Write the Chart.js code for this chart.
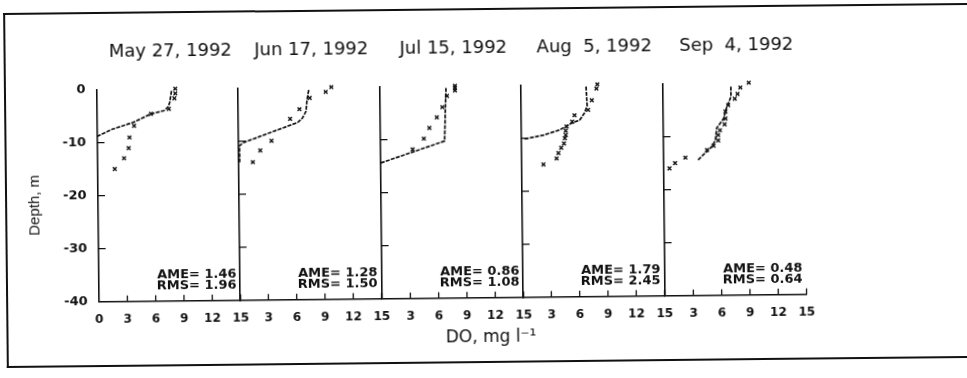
<!DOCTYPE html>
<html>
<head>
<meta charset="utf-8">
<script src="https://cdn.jsdelivr.net/npm/chart.js@4.4.1/dist/chart.umd.min.js"></script>
<style>
  html, body { margin: 0; background: #fff; overflow: hidden; }
  #page { position: relative; width: 967px; height: 378px; overflow: hidden; background: #fff; }
  /* the whole sheet sits a little askew; it is oversized so its edges stay off-page */
  #sheet { position: absolute; left: -40px; top: -40px; width: 1100px; height: 480px;
           transform-origin: 523.5px 229px; transform: rotate(-0.6deg); }
  #inner { position: absolute; left: 40px; top: 40px; width: 967px; height: 378px; }
  .rule { position: absolute; background: #111; }
  #ruleTop { left: 5px; top: 8px; width: 1020px; height: 2px; }
  #ruleBottom { left: 5px; top: 361px; width: 1020px; height: 2px; }
  #ruleLeft { left: 5px; top: 8px; width: 2px; height: 355px; }
  #inner canvas { position: absolute; top: 0; }
</style>
</head>
<body>
<div id="page">
  <div id="sheet">
    <div id="inner">
      <div class="rule" id="ruleTop"></div>
      <div class="rule" id="ruleBottom"></div>
      <div class="rule" id="ruleLeft"></div>
      <canvas id="panel0" width="308" height="378"></canvas>
      <canvas id="panel1" width="308" height="378"></canvas>
      <canvas id="panel2" width="308" height="378"></canvas>
      <canvas id="panel3" width="308" height="378"></canvas>
      <canvas id="panel4" width="308" height="378"></canvas>
    </div>
  </div>
</div>
<script>
// DO profiles, simulated (line) vs measured (x), 1992
const dates = ['May 27, 1992', 'Jun 17, 1992', 'Jul 15, 1992', 'Aug  5, 1992', 'Sep  4, 1992'];
const ame = [1.46, 1.28, 0.86, 1.79, 0.48];
const rms = [1.96, 1.50, 1.08, 2.45, 0.64];

const doTicks = [0, 3, 6, 9, 12, 15];
const depthTicks = [0, -10, -20, -30, -40];

// simulated profiles: DO (mg/l) and depth (m)
const mayModelDo = [7.9, 7.7, 7.5, 7.1, 5.7, 3.9, 1.6, 0.0];
const mayModelDepth = [-0.4, -2.6, -3.5, -4.1, -4.7, -6.2, -7.5, -8.8];
const junModelDo = [7.5, 7.3, 7.2, 6.8, 6.3, 0.5, 0.1, 0.1];
const junModelDepth = [-0.5, -2.5, -4.5, -5.8, -6.6, -10.3, -10.9, -14.0];
const julModelDo = [7.0, 6.9, 6.8, 0.0];
const julModelDepth = [-0.4, -5.0, -10.4, -14.4];
const augModelDo = [6.9, 7.0, 6.7, 6.2, 5.3, 4.1, 2.3, 0.2];
const augModelDepth = [-0.4, -4.1, -5.4, -6.7, -7.3, -8.5, -9.5, -10.2];
const sepModelDo = [7.2, 7.2, 6.7, 6.4, 5.65, 5.5, 5.1, 3.6];
const sepModelDepth = [-0.7, -2.6, -4.8, -6.7, -8.5, -10.8, -12.0, -14.5];

// measured profiles
const mayObsDo = [8.3, 8.3, 8.2, 7.6, 5.7, 3.9, 3.4, 3.3, 2.8, 1.8];
const mayObsDepth = [0, -0.9, -1.8, -3.8, -4.7, -6.9, -9.1, -11.1, -13.0, -15.0];
const junObsDo = [9.9, 9.3, 7.6, 6.5, 5.5, 3.5, 2.3, 1.5];
const junObsDepth = [0, -0.9, -2.0, -4.1, -5.9, -10.0, -11.8, -14.0];
const julObsDo = [7.95, 7.95, 7.95, 7.1, 6.6, 6.0, 5.2, 4.6, 3.4];
const julObsDepth = [0, -0.4, -0.9, -1.9, -4.0, -5.9, -7.9, -9.9, -11.9];
const augObsDo = [8.1, 8.0, 7.5, 7.1, 5.65, 5.4, 4.8, 4.7, 4.7, 4.6, 4.5, 4.2, 3.9, 3.7, 2.3];
const augObsDepth = [0, -0.8, -3.0, -4.8, -5.8, -7.0, -7.9, -8.7, -9.5, -10.1, -11.1, -11.9, -12.9, -13.9, -15.0];
const sepObsDo = [9.1, 8.2, 7.9, 7.6, 6.9, 6.6, 6.6, 6.5, 6.0, 5.8, 5.8, 5.3, 4.6, 2.3, 1.2, 0.6];
const sepObsDepth = [0, -0.9, -2.1, -3.0, -4.2, -5.4, -6.7, -7.8, -8.9, -9.8, -10.8, -11.8, -12.6, -14.0, -15.0, -16.0];

const modelDo = [mayModelDo, junModelDo, julModelDo, augModelDo, sepModelDo];
const modelDepth = [mayModelDepth, junModelDepth, julModelDepth, augModelDepth, sepModelDepth];
const obsDo = [mayObsDo, junObsDo, julObsDo, augObsDo, sepObsDo];
const obsDepth = [mayObsDepth, junObsDepth, julObsDepth, augObsDepth, sepObsDepth];

const INK = '#111';
const AXIS_X0 = 97.5;   // left axis of first panel
const PANEL_W = 141.5;
const PAD_L = 80;       // room for depth labels
const PAD_R = 86.5;

const pts = (xs, ys) => xs.map((v, i) => ({ x: v, y: ys[i] }));

// date heading, inward tick marks, error stats and the shared axis labels
const panelMarks = {
  id: 'panelMarks',
  afterDraw(chart, args, opts) {
    const { ctx, chartArea: a, scales: { x, y } } = chart;
    ctx.save();
    ctx.strokeStyle = INK;
    ctx.lineWidth = 1.3;
    ctx.beginPath();
    for (const v of depthTicks.slice(1, -1)) {
      const py = y.getPixelForValue(v);
      ctx.moveTo(a.left, py);
      ctx.lineTo(a.left + 7, py);
    }
    for (const v of doTicks.slice(1)) {
      const px = x.getPixelForValue(v);
      ctx.moveTo(px, a.bottom);
      ctx.lineTo(px, a.bottom - 6);
    }
    ctx.stroke();

    ctx.fillStyle = INK;
    ctx.textBaseline = 'middle';

    ctx.font = '18px "DejaVu Sans"';
    ctx.textAlign = 'center';
    ctx.fillText(opts.title, (a.left + a.right) / 2 + 3, a.top - 37);

    ctx.font = 'bold 13px "DejaVu Sans"';
    ctx.textAlign = 'right';
    ctx.fillText(`AME= ${opts.ame.toFixed(2)}`, a.right - 4, a.bottom - 26);
    ctx.fillText(`RMS= ${opts.rms.toFixed(2)}`, a.right - 4, a.bottom - 15.5);

    if (opts.xLabel) {
      ctx.font = '17px "DejaVu Sans"';
      ctx.textAlign = 'center';
      ctx.fillText(opts.xLabel, a.right - 33, a.bottom + 40);
    }
    if (opts.yLabel) {
      ctx.translate(a.left - 63, (a.top + a.bottom) / 2 + 9);
      ctx.rotate(-Math.PI / 2);
      ctx.font = '15px "Liberation Sans"';
      ctx.textAlign = 'center';
      ctx.fillText(opts.yLabel, 0, 0);
    }
    ctx.restore();
  }
};

dates.forEach((date, k) => {
  const el = document.getElementById('panel' + k);
  el.style.left = (AXIS_X0 + k * PANEL_W - PAD_L) + 'px';
  new Chart(el, {
    type: 'scatter',
    data: {
      datasets: [
        {
          type: 'line',
          data: pts(modelDo[k], modelDepth[k]),
          borderColor: INK,
          borderWidth: 1.7,
          borderDash: [4, 1.3],
          pointRadius: 0,
          tension: 0,
          fill: false,
          clip: false
        },
        {
          data: pts(obsDo[k], obsDepth[k]),
          pointStyle: 'crossRot',
          pointRadius: 2.6,
          borderColor: INK,
          borderWidth: 1.4,
          backgroundColor: INK,
          clip: false
        }
      ]
    },
    options: {
      responsive: false,
      animation: false,
      events: [],
      layout: { padding: { left: 0, right: PAD_R, top: 85.5, bottom: 50.3 } },
      plugins: {
        legend: { display: false },
        tooltip: { enabled: false },
        title: { display: false },
        panelMarks: {
          title: date,
          ame: ame[k],
          rms: rms[k],
          xLabel: k === 2 ? 'DO, mg l\u207B\u00B9' : '',
          yLabel: k === 0 ? 'Depth, m' : ''
        }
      },
      scales: {
        x: {
          type: 'linear',
          min: 0,
          max: 15,
          afterFit: (s) => { s.height = 30; },
          afterBuildTicks: (s) => { s.ticks = doTicks.map((v) => ({ value: v })); },
          ticks: {
            color: INK,
            padding: 11,
            font: { family: 'DejaVu Sans', size: 12, weight: 'bold' },
            callback: (v) => (k > 0 && v === 0 ? '' : String(v))
          },
          grid: { display: true, drawOnChartArea: false, drawTicks: false },
          border: { display: true, color: INK, width: 1.6 }
        },
        y: {
          min: -40,
          max: 0,
          afterFit: (s) => { s.width = PAD_L; },
          afterBuildTicks: (s) => { s.ticks = depthTicks.map((v) => ({ value: v })); },
          ticks: {
            display: k === 0,
            color: INK,
            padding: 11.5,
            font: { family: 'DejaVu Sans', size: 13, weight: 'bold' }
          },
          grid: { display: true, drawOnChartArea: false, drawTicks: false },
          border: { display: true, color: INK, width: 1.6 }
        }
      }
    },
    plugins: [panelMarks]
  });
});
</script>
</body>
</html>
